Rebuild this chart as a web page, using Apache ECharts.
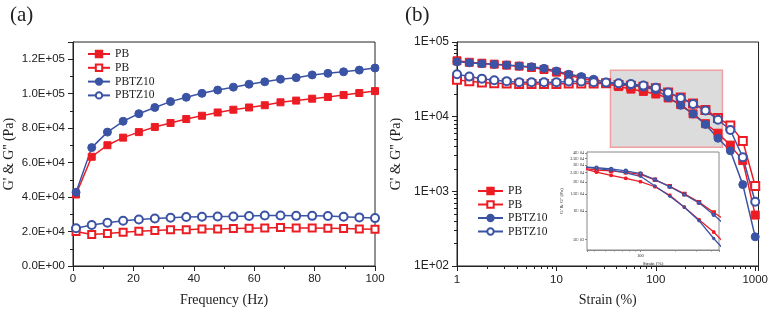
<!DOCTYPE html>
<html>
<head>
<meta charset="utf-8">
<script src="https://cdn.jsdelivr.net/npm/echarts@6/dist/echarts.min.js"></script>
<style>
html, body { margin: 0; padding: 0; background: #fff; }
#chart { width: 771px; height: 312px; }
</style>
</head>
<body>
<div id="chart"></div>
<script>
// (a) frequency sweep
const freq = [1, 6.2, 11.4, 16.6, 21.8, 27.1, 32.3, 37.5, 42.7, 47.9, 53.1, 58.3, 63.5, 68.7, 73.9, 79.2, 84.4, 89.6, 94.8, 100]
const pbStorageF = [41500, 63400, 70100, 74500, 77700, 80700, 83000, 85300, 87200, 89100, 90700, 92000, 93300, 95000, 96000, 97100, 98100, 99200, 100400, 101500]
const pbLossF = [20000, 18300, 18900, 19600, 20200, 20600, 21000, 21100, 21500, 21500, 21700, 21900, 22100, 22300, 22100, 22100, 21900, 21700, 21500, 21300]
const pbtzStorageF = [42800, 68700, 77700, 84000, 88400, 92000, 95400, 97900, 100200, 102100, 103800, 105500, 106900, 108400, 109300, 110900, 111800, 112700, 113700, 114900]
const pbtzLossF = [21900, 23800, 25100, 26300, 27000, 27600, 28000, 28400, 28600, 28700, 28700, 29000, 29300, 29300, 29100, 29100, 29000, 28600, 28200, 27800]

// (b) strain sweep
const strain = [1, 1.33, 1.78, 2.37, 3.16, 4.22, 5.62, 7.5, 10, 13.3, 17.8, 23.7, 31.6, 42.2, 56.2, 75, 100, 133, 178, 237, 316, 422, 562, 750, 1000]
const pbStorageS = [56000, 53500, 52000, 50500, 49000, 47500, 45500, 42800, 39500, 35800, 32800, 30000, 27800, 25300, 23400, 21800, 20100, 17800, 14500, 10900, 8050, 6000, 4160, 2580, 481]
const pbLossS = [31100, 29900, 28700, 28100, 27800, 27300, 27300, 27300, 27300, 27800, 27800, 27800, 28000, 26500, 26000, 25200, 24000, 21000, 18000, 15000, 12300, 9600, 7640, 4730, 1180]
const pbtzStorageS = [54300, 52700, 51200, 50200, 49100, 47600, 46700, 44400, 40900, 37000, 34400, 31700, 29000, 27500, 26500, 24900, 22900, 18100, 14200, 10900, 7880, 5140, 3490, 1230, 246]
const pbtzLossS = [37000, 34400, 32300, 30800, 29900, 29000, 29000, 29000, 29000, 29500, 29500, 29000, 28600, 28100, 27300, 26100, 24400, 21100, 17800, 14800, 12100, 9100, 6630, 2860, 725]

// zoomed region (grey box + inset)
const zoomX = [35, 468]
const zoomY = [3900, 41000]
const insetYTicks = [5000, 10000, 15000, 20000, 25000, 30000, 35000, 40000]

const RED = '#ec1c24'
const BLUE = '#3b53a4'
const INK = '#222'
const serif = 'Liberation Serif'
const sans = 'Liberation Sans'

const pair = (xs, ys) => xs.map((x, i) => [x, ys[i]])
// 1.2e+5 -> 1.2E+05
const sci = (v, digits) => {
  const s = digits === undefined ? v.toExponential() : v.toExponential(digits)
  const [m, e] = s.split('e')
  const n = Math.abs(parseInt(e, 10))
  return m + 'E' + (e[0] === '-' ? '-' : '+') + String(n).padStart(2, '0')
}

const seriesDefs = [
  { key: 'PB-s', color: RED, symbol: 'rect' },
  { key: 'PB-l', color: RED, symbol: 'emptyRect' },
  { key: 'PBTZ10-s', color: BLUE, symbol: 'circle' },
  { key: 'PBTZ10-l', color: BLUE, symbol: 'emptyCircle' }
]
const freqData = [pbStorageF, pbLossF, pbtzStorageF, pbtzLossF]
const strainData = [pbStorageS, pbLossS, pbtzStorageS, pbtzLossS]

const makeLine = (def, name, data, xi, size, width, z) => ({
  name: name,
  type: 'line',
  xAxisIndex: xi,
  yAxisIndex: xi,
  data: data,
  symbol: def.symbol,
  symbolSize: size,
  showAllSymbol: true,
  clip: true,
  z: z,
  color: def.color,
  lineStyle: { color: def.color, width: width },
  itemStyle: { color: def.color, borderColor: def.color, borderWidth: 1 },
  emphasis: { disabled: true }
})

const series = []
seriesDefs.forEach((d, i) => {
  series.push(makeLine(d, d.key + '-a', pair(freq, freqData[i]), 0, d.symbol.indexOf('ircle') > 0 ? 8 : 7, 1.5, 3))
})
seriesDefs.forEach((d, i) => {
  series.push(makeLine(d, d.key + '-b', pair(strain, strainData[i]), 1, 8, 1.5, 3))
})
seriesDefs.forEach((d, i) => {
  series.push(makeLine(d, d.key + '-c', pair(strain, strainData[i]), 2, 2.5, 1.3, 6))
})
// grey box marking the zoomed region
series.push({
  type: 'line',
  name: 'zoom-box',
  xAxisIndex: 1,
  yAxisIndex: 1,
  data: [],
  z: 1,
  markArea: {
    silent: true,
    itemStyle: { color: '#dcdcdc', opacity: 1, borderColor: '#f0a0a0', borderWidth: 1.5 },
    data: [[{ coord: [zoomX[0], zoomY[0]] }, { coord: [zoomX[1], 42000] }]]
  }
})

const tickCfg = (len) => ({ show: true, inside: false, length: len, lineStyle: { color: INK, width: 1 } })
const lineCfg = { show: true, lineStyle: { color: INK, width: 1 } }

const myChart = echarts.init(document.getElementById('chart'))
const option = {
  animation: false,
  backgroundColor: '#fff',
  title: [
    { text: '(a)', left: 5, top: 0, textStyle: { fontFamily: serif, fontWeight: 'normal', fontSize: 21, color: INK } },
    { text: '(b)', left: 400, top: 0, textStyle: { fontFamily: serif, fontWeight: 'normal', fontSize: 21, color: INK } }
  ],
  legend: [
    {
      data: seriesDefs.map((d) => d.key + '-a'),
      orient: 'vertical',
      left: 82,
      top: 43,
      itemWidth: 22,
      itemHeight: 8,
      itemGap: 1.8,
      formatter: (n) => n.split('-')[0],
      textStyle: { fontFamily: serif, fontSize: 11.5, color: INK },
      selectedMode: false
    },
    {
      data: seriesDefs.map((d) => d.key + '-b'),
      orient: 'vertical',
      left: 472,
      top: 180,
      itemWidth: 25,
      itemHeight: 8,
      itemGap: 1.5,
      formatter: (n) => n.split('-')[0],
      textStyle: { fontFamily: serif, fontSize: 11.5, color: INK },
      selectedMode: false
    }
  ],
  grid: [
    { left: 73, right: 396, top: 42, bottom: 45, show: true, borderColor: INK, borderWidth: 1 },
    { left: 457, right: 11, top: 42, bottom: 44, show: true, borderColor: INK, borderWidth: 1 },
    { left: 587, top: 152, width: 132, height: 98, show: true, backgroundColor: '#fff', borderColor: '#888', borderWidth: 1, z: 5 }
  ],
  xAxis: [
    {
      gridIndex: 0,
      type: 'value',
      min: 0,
      max: 100,
      interval: 20,
      name: 'Frequency (Hz)',
      nameLocation: 'middle',
      nameGap: 27,
      nameTextStyle: { fontFamily: serif, fontSize: 14, color: INK },
      axisLine: lineCfg,
      axisTick: tickCfg(5),
      minorTick: { show: true, splitNumber: 2, length: 3, lineStyle: { color: INK } },
      axisLabel: { fontFamily: sans, fontSize: 11.5, color: INK, margin: 7 },
      splitLine: { show: false }
    },
    {
      gridIndex: 1,
      type: 'log',
      min: 1,
      max: 1080,
      name: 'Strain (%)',
      nameLocation: 'middle',
      nameGap: 27,
      nameTextStyle: { fontFamily: serif, fontSize: 14, color: INK },
      axisLine: lineCfg,
      axisTick: tickCfg(5),
      minorTick: { show: true, splitNumber: 9, length: 3, lineStyle: { color: INK } },
      axisLabel: { fontFamily: sans, fontSize: 11.5, color: INK, margin: 8, showMaxLabel: false, formatter: (v) => String(Math.round(v)) },
      splitLine: { show: false }
    },
    {
      gridIndex: 2,
      type: 'log',
      min: zoomX[0],
      max: zoomX[1],
      name: 'Strain (%)',
      nameLocation: 'middle',
      nameGap: 11,
      nameTextStyle: { fontFamily: serif, fontSize: 5, color: INK },
      axisLine: { show: true, lineStyle: { color: '#888', width: 1 } },
      axisTick: { show: true, length: 2, lineStyle: { color: '#888' } },
      minorTick: { show: true, splitNumber: 9, length: 1.5, lineStyle: { color: '#888' } },
      axisLabel: { fontFamily: serif, fontSize: 4.5, color: INK, margin: 3, showMinLabel: false, showMaxLabel: false, formatter: (v) => String(Math.round(v)) },
      splitLine: { show: false }
    }
  ],
  yAxis: [
    {
      gridIndex: 0,
      type: 'value',
      min: 0,
      max: 130000,
      interval: 20000,
      name: "G' & G'' (Pa)",
      nameLocation: 'middle',
      nameGap: 57,
      nameTextStyle: { fontFamily: serif, fontSize: 14, color: INK },
      axisLine: lineCfg,
      axisTick: tickCfg(5),
      minorTick: { show: true, splitNumber: 2, length: 3, lineStyle: { color: INK } },
      axisLabel: { fontFamily: sans, fontSize: 11.5, color: INK, margin: 8, showMaxLabel: false, formatter: (v) => sci(v, 1) },
      splitLine: { show: false }
    },
    {
      gridIndex: 1,
      type: 'log',
      min: 100,
      max: 100000,
      name: "G' & G'' (Pa)",
      nameLocation: 'middle',
      nameGap: 54,
      nameTextStyle: { fontFamily: serif, fontSize: 14, color: INK },
      axisLine: lineCfg,
      axisTick: tickCfg(5),
      minorTick: { show: true, splitNumber: 9, length: 3, lineStyle: { color: INK } },
      axisLabel: { fontFamily: sans, fontSize: 12, color: INK, margin: 8, formatter: (v) => sci(v) },
      splitLine: { show: false }
    },
    {
      gridIndex: 2,
      type: 'log',
      min: zoomY[0],
      max: zoomY[1],
      name: "G' & G'' (Pa)",
      nameLocation: 'middle',
      nameGap: 23,
      nameTextStyle: { fontFamily: serif, fontSize: 5, color: INK },
      axisLine: { show: true, lineStyle: { color: '#888', width: 1 } },
      axisTick: { show: true, length: 2, customValues: insetYTicks, lineStyle: { color: '#888' } },
      axisLabel: { fontFamily: serif, fontSize: 4, color: INK, margin: 3, customValues: insetYTicks, formatter: (v) => sci(v) },
      splitLine: { show: false }
    }
  ],
  series: series
}
myChart.setOption(option)
</script>
</body>
</html>
